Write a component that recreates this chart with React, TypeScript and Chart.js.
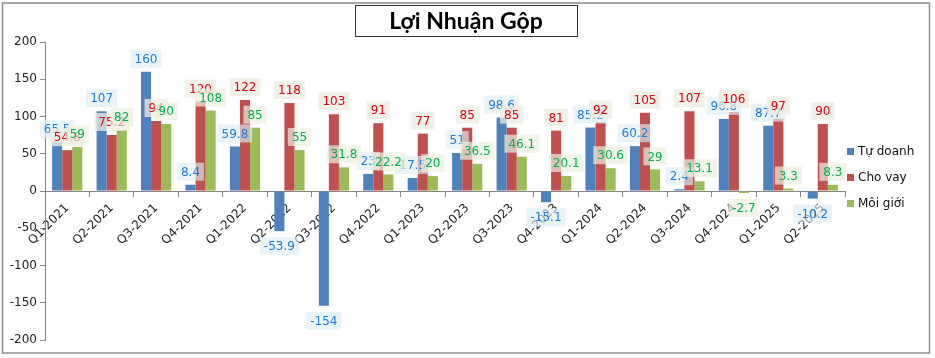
import React, { useEffect, useRef } from "react";
import { Chart, registerables } from "chart.js";
Chart.register(...registerables);

const categories = ["Q1-2021","Q2-2021","Q3-2021","Q4-2021","Q1-2022","Q2-2022","Q3-2022","Q4-2022","Q1-2023","Q2-2023","Q3-2023","Q4-2023","Q1-2024","Q2-2024","Q3-2024","Q4-2024","Q1-2025","Q2-2025"];
const tuDoanh = [65.5,107,160,8.4,59.8,-53.9,-154,23,17.5,51,98.6,-15.1,85.2,60.2,2.4,96.8,87.7,-10.2];
const choVay = [54.8,75.2,94,120,122,118,103,91,77,85,85,81,92,105,107,106,97,90];
const moiGioi = [59,82,90,108,85,55,31.8,22.2,20,36.5,46.1,20.1,30.6,29,13.1,-2.7,3.3,8.3];
const seriesNames = ["Tự doanh","Cho vay","Môi giới"];
const title = "Lợi Nhuận Gộp";

const barColors = ["#4F81BD","#C0504D","#9BBB59"];
const labelColors = ["#1F7BD3","#E00010","#00B050"];
const labelBgs = ["rgba(219,238,244,0.65)","rgba(238,236,225,0.75)","rgba(235,241,222,0.7)"];

const decorPlugin = {
  id: "decor",
  afterDatasetsDraw(chart: any) {
    const ctx = chart.ctx;
    ctx.save();
    ctx.font = "12px 'DejaVu Sans'";
    ctx.textAlign = "center";
    ctx.textBaseline = "middle";
    chart.data.datasets.forEach((ds: any, di: number) => {
      const meta = chart.getDatasetMeta(di);
      meta.data.forEach((el: any, i: number) => {
        const v = ds.data[i];
        const txt = String(v);
        const w = ctx.measureText(txt).width + 8;
        const h = 18;
        const cy = v >= 0 ? el.y - 13 : el.y + 15;
        ctx.fillStyle = labelBgs[di];
        ctx.fillRect(el.x - w / 2, cy - h / 2, w, h);
        ctx.fillStyle = labelColors[di];
        ctx.fillText(txt, el.x, cy + 1);
      });
    });
    ctx.restore();
  },
  afterDraw(chart: any) {
    const ctx = chart.ctx;
    ctx.save();
    ctx.strokeStyle = "#8C8C8C";
    ctx.lineWidth = 1.5;
    ctx.strokeRect(2.5, 3, 927, 350);
    ctx.fillStyle = "#FFFFFF";
    ctx.fillRect(355, 5, 222, 31);
    ctx.strokeStyle = "#333";
    ctx.lineWidth = 1;
    ctx.strokeRect(355.5, 5.5, 222, 31);
    ctx.fillStyle = "#000";
    ctx.font = "bold 23px Lato";
    ctx.textAlign = "center";
    ctx.textBaseline = "middle";
    ctx.fillText(title, 466, 22);
    ctx.font = "12px 'DejaVu Sans'";
    ctx.textAlign = "left";
    seriesNames.forEach((n, i) => {
      const y = 152 + i * 26;
      ctx.fillStyle = barColors[i];
      ctx.fillRect(847, y - 4, 7, 7);
      ctx.fillStyle = "#111";
      ctx.fillText(n, 858, y);
    });
    ctx.restore();
  },
};

export default function App() {
  const ref = useRef<HTMLCanvasElement>(null);
  useEffect(() => {
    const chart = new Chart(ref.current!, {
      type: "bar",
      data: {
        labels: categories,
        datasets: [tuDoanh, choVay, moiGioi].map((d, i) => ({
          label: seriesNames[i],
          data: d,
          backgroundColor: barColors[i],
          borderWidth: 0,
          barPercentage: 1,
          categoryPercentage: 0.68,
        })),
      },
      options: {
        animation: false,
        responsive: false,
        maintainAspectRatio: false,
        layout: { padding: { left: 0, right: 90, top: 42, bottom: 18 } },
        plugins: { legend: { display: false }, tooltip: { enabled: false }, title: { display: false } },
        scales: {
          x: {
            position: { y: 0 } as any,
            grid: { offset: true, drawOnChartArea: false, tickLength: 5, color: "#868686" },
            border: { color: "#868686" },
            ticks: { minRotation: 45, maxRotation: 45, color: "#222", font: { family: "DejaVu Sans", size: 12 }, padding: 5 },
          },
          y: {
            min: -200,
            max: 200,
            afterFit: (s: any) => { s.width = 45; },
            grid: { drawOnChartArea: false, tickLength: 5, color: "#868686" },
            border: { color: "#868686" },
            ticks: { stepSize: 50, color: "#222", font: { family: "DejaVu Sans", size: 12 }, padding: 3 },
          },
        },
      },
      plugins: [decorPlugin],
    });
    return () => chart.destroy();
  }, []);
  return (
    <div style={{ position: "absolute", left: 0, top: 0, width: 935, height: 358, background: "#fff" }}>
      <canvas ref={ref} width={935} height={358} style={{ width: 935, height: 358 }} />
    </div>
  );
}
